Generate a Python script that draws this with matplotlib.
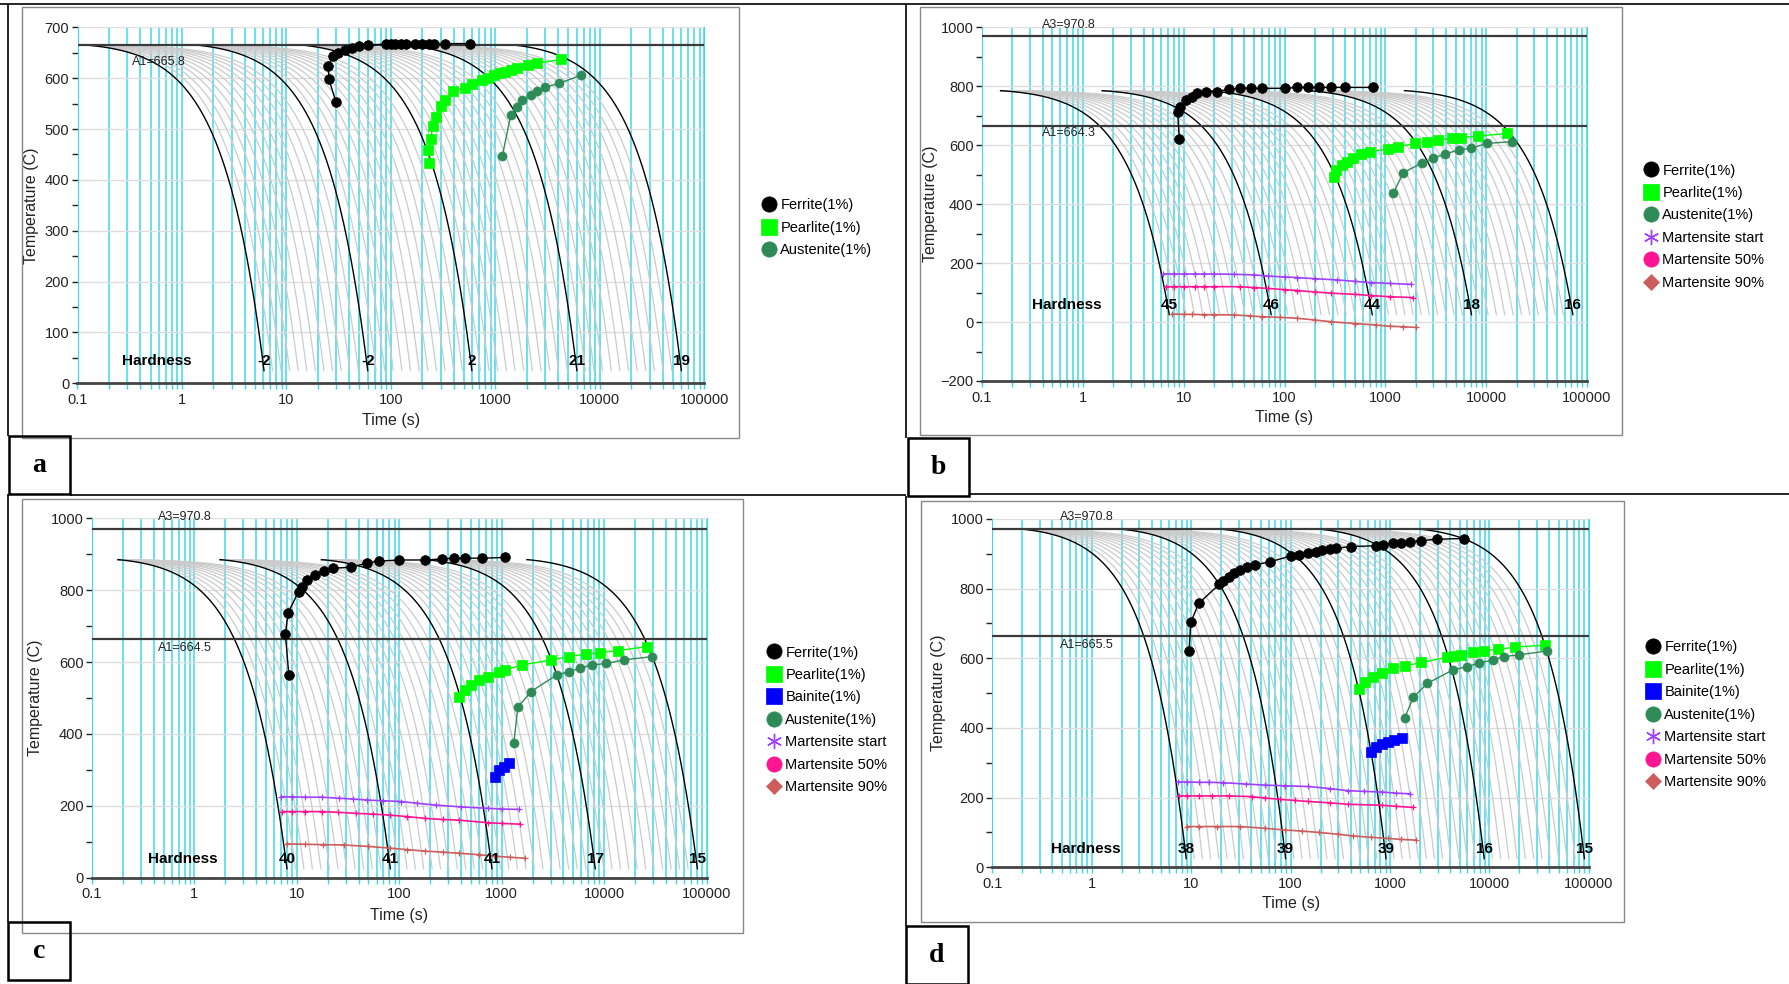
import numpy as np
import matplotlib
matplotlib.use('Agg')
import matplotlib.pyplot as plt
from matplotlib.lines import Line2D
from matplotlib.patches import Rectangle
from matplotlib.ticker import FixedLocator, FuncFormatter, MultipleLocator, NullFormatter

plt.rcParams['font.family'] = ['Liberation Sans', 'DejaVu Sans']

W, H = 1789, 984
CYAN = '#3fd8ea'
GRAY_CURVE = '#cbcbcb'

# ---------------- panel a ----------------
A_T0 = 665.8
A_A1 = 665.8
A_START = [0.11, 1.26, 13, 127, 1400]
A_END = [6.1, 60, 596, 6030, 60300]
A_HARD = ['-2', '-2', '2', '21', '19']
A_FER_t = [29.7, 25.5, 25.2, 27.8, 31, 36, 42, 49, 61, 90, 100, 110, 125, 140, 170, 200, 230, 260, 330, 575]
A_FER_T = [554, 598, 623, 644, 650, 655, 660, 663, 665, 667, 667, 668, 668, 668, 668, 668, 668, 668, 668, 668]
A_PEA_t = [233, 228, 240, 252, 271, 300, 328, 397, 512, 600, 748, 850, 964, 1100, 1242, 1400, 1600, 2060, 2490, 4290]
A_PEA_T = [434, 459, 480, 505, 524, 545, 557, 575, 580, 588, 596, 601, 606, 610, 613, 616, 619, 626, 629, 637]
A_AUS_t = [1164, 1406, 1600, 1812, 2200, 2490, 3000, 4100, 6670]
A_AUS_T = [446, 528, 544, 557, 567, 574, 582, 590, 606]

# ---------------- panel b ----------------
B_T0 = 785
B_A1 = 664.3
B_A3 = 970.8
B_START = [0.153, 1.56, 16.7, 171, 1550]
B_END = [7.2, 73.8, 742, 7150, 72400]
B_HARD = ['45', '46', '44', '18', '16']
B_FER_t = [9.06, 8.7, 9.3, 10.6, 12.0, 13.7, 16.7, 21.5, 27.9, 36.1, 46.7, 60, 102, 132, 170, 221, 286, 395, 760]
B_FER_T = [620, 714, 731, 753, 765, 776, 782, 782, 790, 793, 793, 793, 793, 796, 796, 796, 796, 796, 796]
B_PEA_t = [307, 327, 370, 420, 475, 577, 700, 1060, 1350, 1990, 2570, 3330, 4630, 5640, 8350, 16000]
B_PEA_T = [493, 516, 533, 544, 556, 569, 578, 587, 595, 606, 612, 618, 623, 626, 631, 640]
B_AUS_t = [1197, 1510, 2290, 2980, 3880, 5370, 7020, 10100, 18100]
B_AUS_T = [437, 507, 539, 556, 570, 584, 589, 606, 612]
B_MS_t = [6.3, 8, 10, 13, 16, 20, 31.7, 50, 69, 100, 132, 200, 330, 500, 720, 1100, 1780]
B_MS_T = [163, 163, 163, 163, 163, 163, 162, 160, 156, 153, 151, 147, 143, 138, 134, 131, 128]
B_M50_t = [6.7, 8, 10, 13, 16, 20, 36, 50, 69, 100, 132, 200, 290, 500, 720, 1100, 1900]
B_M50_T = [120, 120, 120, 120, 120, 120, 120, 117, 114, 110, 107, 102, 98, 94, 90, 86, 83]
B_M90_t = [7.7, 10, 12, 16, 20, 31.7, 45, 60, 90, 132, 200, 290, 500, 800, 1100, 1500, 2000]
B_M90_T = [27, 26, 26, 25, 25, 24, 21, 18, 16, 13, 7, 1, -5, -10, -14, -16, -18]

# ---------------- panel c ----------------
C_T0 = 885
C_A1 = 664.5
C_A3 = 970.8
C_START = [0.179, 1.78, 17.4, 177, 1760]
C_END = [8.0, 81.8, 803, 8190, 81300]
C_HARD = ['40', '41', '41', '17', '15']
C_FER_t = [8.35, 7.73, 8.2, 10.4, 11.1, 12.6, 14.9, 18.6, 22.6, 33.4, 48.8, 63, 99, 178, 262, 340, 441, 645, 1080]
C_FER_T = [564, 677, 737, 796, 810, 828, 842, 852, 861, 864, 875, 881, 884, 884, 887, 889, 889, 889, 891]
C_PEA_t = [385, 438, 500, 603, 731, 946, 1080, 1590, 3050, 4490, 6620, 9130, 13500, 26400]
C_PEA_T = [502, 522, 536, 550, 559, 573, 578, 592, 606, 615, 622, 626, 632, 643]
C_AUS_t = [1312, 1435, 1930, 3440, 4490, 5830, 7580, 10500, 15500, 29200]
C_AUS_T = [374, 474, 518, 564, 573, 583, 592, 596, 606, 615]
C_BAI_t = [867, 950, 1050, 1180]
C_BAI_T = [279, 300, 309, 320]
C_MS_t = [7.06, 9, 12, 17.5, 25.8, 35, 48.8, 70, 105, 150, 229, 400, 730, 1000, 1480]
C_MS_T = [225, 225, 224, 224, 221, 219, 216, 214, 212, 207, 202, 197, 193, 191, 190]
C_M50_t = [7.2, 9, 12, 17.5, 25, 37.8, 55, 82, 120, 178, 270, 385, 730, 1000, 1510]
C_M50_T = [184, 184, 184, 184, 182, 179, 177, 174, 170, 165, 162, 160, 153, 151, 149]
C_M90_t = [8, 12, 18, 29, 50, 82, 120, 178, 270, 385, 600, 840, 1200, 1700]
C_M90_T = [94, 93, 92, 91, 87, 82, 78, 74, 71, 68, 64, 60, 57, 54]

# ---------------- panel d ----------------
D_T0 = 970.8
D_A1 = 665.5
D_A3 = 970.8
D_START = [0.2, 1.97, 19.9, 195, 1970]
D_END = [8.9, 89, 910, 8840, 90100]
D_HARD = ['38', '39', '39', '16', '15']
D_FER_t = [9.5, 9.9, 11.9, 19.1, 21, 23.9, 27, 31.2, 36, 43.3, 61.6, 101, 120, 150, 180, 208, 250, 288, 400,
           723, 850, 1070, 1300, 1590, 2070, 2980, 5570]
D_FER_T = [621, 703, 758, 812, 822, 834, 845, 854, 861, 868, 877, 894, 897, 901, 906, 911, 914, 916, 921,
           923, 926, 930, 932, 935, 938, 942, 944]
D_PEA_t = [491, 560, 681, 828, 1070, 1400, 2070, 3750, 4400, 5210, 6780, 8840, 12300, 18100, 36000]
D_PEA_T = [511, 533, 547, 559, 571, 578, 588, 603, 606, 610, 617, 622, 626, 632, 638]
D_AUS_t = [1400, 1710, 2370, 4290, 5960, 7770, 10800, 14100, 19700, 38100]
D_AUS_T = [428, 488, 528, 567, 576, 586, 595, 605, 610, 621]
D_BAI_t = [638, 730, 833, 950, 1085, 1320]
D_BAI_T = [332, 346, 354, 361, 366, 370]
D_MS_t = [7.33, 9, 12, 15, 20.9, 35.4, 55, 88, 150, 250, 377, 550, 833, 1150, 1590]
D_MS_T = [245, 245, 244, 244, 243, 239, 236, 234, 232, 226, 220, 218, 216, 213, 211]
D_M50_t = [7.6, 9, 12, 16, 23.9, 40.4, 55, 78.5, 110, 150, 250, 377, 833, 1150, 1700]
D_M50_T = [205, 205, 205, 205, 205, 203, 199, 195, 192, 189, 185, 181, 178, 175, 172]
D_M90_t = [9.0, 12, 18, 31.2, 55, 88, 130, 194, 300, 425, 650, 950, 1300, 1840]
D_M90_T = [117, 117, 117, 117, 112, 107, 104, 100, 95, 90, 86, 83, 80, 78]

# log time axis ticks (0.1 .. 100000)
MAJOR_T = [0.1, 1, 10, 100, 1000, 10000, 100000]
MINOR_T = [m * d for d in MAJOR_T[:-1] for m in range(2, 10)]

# phase styles: (label, marker, color, markersize, legend marker, legend size)
FER_STYLE = ('Ferrite(1%)', 'o', '#000000', 7, 'o', 11)
PEA_STYLE = ('Pearlite(1%)', 's', '#00ff00', 7, 's', 11)
BAI_STYLE = ('Bainite(1%)', 's', '#0000ff', 7, 's', 11)
AUS_STYLE = ('Austenite(1%)', 'o', '#2e8b57', 6.5, 'o', 11)
MS_STYLE = ('Martensite start', '+', '#a040ff', 4, (6, 2, 0), 11)
M50_STYLE = ('Martensite 50%', '+', '#ff1493', 4, 'o', 11)
M90_STYLE = ('Martensite 90%', '+', '#cd5c5c', 4, 'D', 8)


def frac(x, y):
    return x / W, 1 - y / H


def fig_line(fig, x0, y0, x1, y1, lw=1.2, color='black'):
    (fx0, fy0), (fx1, fy1) = frac(x0, y0), frac(x1, y1)
    fig.add_artist(Line2D([fx0, fx1], [fy0, fy1], transform=fig.transFigure,
                          color=color, lw=lw, solid_capstyle='butt'))


def fig_rect(fig, x0, y0, x1, y1, lw=1.0, ec='#888888'):
    fx, fy = frac(x0, y1)
    fig.add_artist(Rectangle((fx, fy), (x1 - x0) / W, (y1 - y0) / H, transform=fig.transFigure,
                             fill=False, ec=ec, lw=lw))


def cooling(t0, t1, T0, T1=25.0):
    # constant-rate cooling path drawn on a log time axis, slight shoulder
    t = np.geomspace(t0, t1, 300)
    return t, T0 - (T0 - T1) * ((t - t0) / (t1 - t0)) ** 1.1


def draw_panel(fig, p):
    ax = fig.add_axes(p['rect'])
    ax.set_xscale('log')
    ax.set_xlim(0.1, 100000)
    ax.set_ylim(*p['ylim'])
    ax.set_axisbelow(True)

    ax.xaxis.set_major_locator(FixedLocator(MAJOR_T))
    ax.xaxis.set_minor_locator(FixedLocator(MINOR_T))
    ax.xaxis.set_major_formatter(FuncFormatter(lambda v, _: f'{v:g}'))
    ax.xaxis.set_minor_formatter(NullFormatter())
    ax.yaxis.set_major_locator(MultipleLocator(p['ystep']))
    ax.yaxis.set_minor_locator(MultipleLocator(p['ystep'] / 2))
    ax.grid(which='both', axis='x', color=CYAN, lw=1.1)
    ax.grid(which='major', axis='y', color='#dddddd', lw=1.0)
    ax.tick_params(axis='x', which='both', direction='out', length=4, width=1, color=CYAN,
                   labelsize=10.5, labelcolor='#222222', pad=3)
    ax.tick_params(axis='y', which='both', direction='out', length=4, width=1, color='#222222',
                   labelsize=10.5, labelcolor='#222222', pad=2)
    ax.spines['top'].set_visible(False)
    ax.spines['left'].set_color(CYAN)
    ax.spines['right'].set_color(CYAN)
    ax.spines['bottom'].set_color('#444444')
    ax.spines['bottom'].set_linewidth(2)

    # family of cooling curves
    starts, ends, T0 = p['start'], p['end'], p['T0']
    for k in range(len(starts) - 1):
        ratio = ends[k + 1] / ends[k]
        for j in range(1, 12):
            te = starts[k] + (ends[k] - starts[k]) * ratio ** (j / 12)
            t, T = cooling(starts[k], te, T0)
            ax.plot(t, T, color=GRAY_CURVE, lw=0.9, zorder=2)
    for k in range(len(starts)):
        t, T = cooling(starts[k], ends[k], T0)
        ax.plot(t, T, color='black', lw=1.0, zorder=3)
        ax.text(ends[k], p['hard_y'], p['hard'][k], ha='center', va='center',
                fontsize=11, fontweight='bold', zorder=6)
    ax.text(p['hard_x'], p['hard_y'], 'Hardness', ha='center', va='center',
            fontsize=11, fontweight='bold', zorder=6)

    # critical temperatures
    ax.axhline(p['A1'], color='#3a3a3a', lw=1.6, zorder=4)
    ax.text(p['lab_x'], p['A1_lab_y'], f"A1={p['A1']}", fontsize=9, ha='left', va='center',
            color='#222222', zorder=6)
    if p.get('A3') is not None:
        ax.axhline(p['A3'], color='#3a3a3a', lw=1.6, zorder=4)
        ax.text(p['lab_x'], p['A3_lab_y'], f"A3={p['A3']}", fontsize=9, ha='left', va='center',
                color='#222222', zorder=6, clip_on=False)

    # transformation start lines
    handles = []
    for (t, T), style in p['series']:
        label, m, c, ms, lm, lms = style
        small = m == '+'
        ax.plot(t, T, color=c, lw=1.0 if not small else 1.2, marker=m, ms=ms,
                mec=c, mfc=c, mew=0.9 if small else 0.5, zorder=5)
        handles.append(Line2D([], [], ls='none', marker=lm, ms=lms, color=c, mec=c,
                              mew=1.0 if lm == (6, 2, 0) else 0.5, label=label))

    ax.set_xlabel('Time (s)', fontsize=11.5, color='#222222')
    ax.set_ylabel('Temperature (C)', fontsize=11.5, color='#222222')
    ax.xaxis.set_label_coords(0.5, p['xlab_y'])
    ax.yaxis.set_label_coords(p['ylab_x'], 0.5)

    lx, ly = frac(*p['leg'])
    ax.legend(handles=handles, loc='upper left', bbox_to_anchor=(lx, ly),
              bbox_transform=fig.transFigure, frameon=False, fontsize=10.5,
              handlelength=1.0, handletextpad=0.3, labelspacing=0.58,
              borderpad=0, borderaxespad=0)
    return ax


panels = [
    dict(rect=[77.5 / W, 1 - 383.3 / H, 626.8 / W, 356.0 / H], ylim=(0, 700), ystep=100,
         T0=A_T0, start=A_START, end=A_END, hard=A_HARD, hard_x=0.577, hard_y=44,
         A1=A_A1, A3=None, lab_x=0.33, A1_lab_y=632, A3_lab_y=None,
         series=[((A_FER_t, A_FER_T), FER_STYLE), ((A_PEA_t, A_PEA_T), PEA_STYLE),
                 ((A_AUS_t, A_AUS_T), AUS_STYLE)],
         xlab_y=-0.083, ylab_x=-0.061, leg=(761.5, 198.5)),
    dict(rect=[982 / W, 1 - 381 / H, 605 / W, 353.7 / H], ylim=(-200, 1000), ystep=200,
         T0=B_T0, start=B_START, end=B_END, hard=B_HARD, hard_x=0.70, hard_y=58,
         A1=B_A1, A3=B_A3, lab_x=0.39, A1_lab_y=641, A3_lab_y=1008,
         series=[((B_FER_t, B_FER_T), FER_STYLE), ((B_PEA_t, B_PEA_T), PEA_STYLE),
                 ((B_AUS_t, B_AUS_T), AUS_STYLE), ((B_MS_t, B_MS_T), MS_STYLE),
                 ((B_M50_t, B_M50_T), M50_STYLE), ((B_M90_t, B_M90_T), M90_STYLE)],
         xlab_y=-0.082, ylab_x=-0.073, leg=(1643.5, 163.5)),
    dict(rect=[92 / W, 1 - 877.7 / H, 614.6 / W, 359.4 / H], ylim=(0, 1000), ystep=200,
         T0=C_T0, start=C_START, end=C_END, hard=C_HARD, hard_x=0.77, hard_y=52,
         A1=C_A1, A3=C_A3, lab_x=0.44, A1_lab_y=639, A3_lab_y=1004,
         series=[((C_FER_t, C_FER_T), FER_STYLE), ((C_PEA_t, C_PEA_T), PEA_STYLE),
                 ((C_BAI_t, C_BAI_T), BAI_STYLE), ((C_AUS_t, C_AUS_T), AUS_STYLE),
                 ((C_MS_t, C_MS_T), MS_STYLE), ((C_M50_t, C_M50_T), M50_STYLE),
                 ((C_M90_t, C_M90_T), M90_STYLE)],
         xlab_y=-0.084, ylab_x=-0.080, leg=(766.5, 645.5)),
    dict(rect=[992.4 / W, 1 - 867.3 / H, 596.5 / W, 348.3 / H], ylim=(0, 1000), ystep=200,
         T0=D_T0, start=D_START, end=D_END, hard=D_HARD, hard_x=0.87, hard_y=52,
         A1=D_A1, A3=D_A3, lab_x=0.48, A1_lab_y=638, A3_lab_y=1006,
         series=[((D_FER_t, D_FER_T), FER_STYLE), ((D_PEA_t, D_PEA_T), PEA_STYLE),
                 ((D_BAI_t, D_BAI_T), BAI_STYLE), ((D_AUS_t, D_AUS_T), AUS_STYLE),
                 ((D_MS_t, D_MS_T), MS_STYLE), ((D_M50_t, D_M50_T), M50_STYLE),
                 ((D_M90_t, D_M90_T), M90_STYLE)],
         xlab_y=-0.083, ylab_x=-0.077, leg=(1645.5, 640.5)),
]

fig = plt.figure(figsize=(W / 100, H / 100), dpi=100, facecolor='white')

# chart frames (grey border around each exported chart)
fig_rect(fig, 22, 7, 739, 438)
fig_rect(fig, 920, 7, 1622, 435)
fig_rect(fig, 22, 499, 743, 933)
fig_rect(fig, 921, 501, 1624, 922)

for p in panels:
    draw_panel(fig, p)

# table borders
fig_line(fig, 0, 3.5, W, 3.5)
fig_line(fig, 8, 3.5, 8, 436)
fig_line(fig, 8, 494, 8, 922)
fig_line(fig, 906, 3.5, 906, 438)
fig_line(fig, 906, 496, 906, 926)
fig_line(fig, 70, 495, 906, 495)
fig_line(fig, 969, 494, W, 494)

# panel letter boxes
for (x0, y0, x1, y1), letter in [((9, 436, 70, 494), 'a'), ((908, 438, 969, 496), 'b'),
                                 ((8, 922, 70, 980), 'c'), ((906, 926, 968, 984), 'd')]:
    fig_rect(fig, x0, y0, x1, y1, lw=1.8, ec='black')
    cx, cy = frac((x0 + x1) / 2, (y0 + y1) / 2)
    fig.text(cx, cy, letter, ha='center', va='center', fontsize=20, fontweight='bold',
             family=['Liberation Serif', 'DejaVu Serif'])

fig.savefig('out.png', dpi=100, facecolor='white')
